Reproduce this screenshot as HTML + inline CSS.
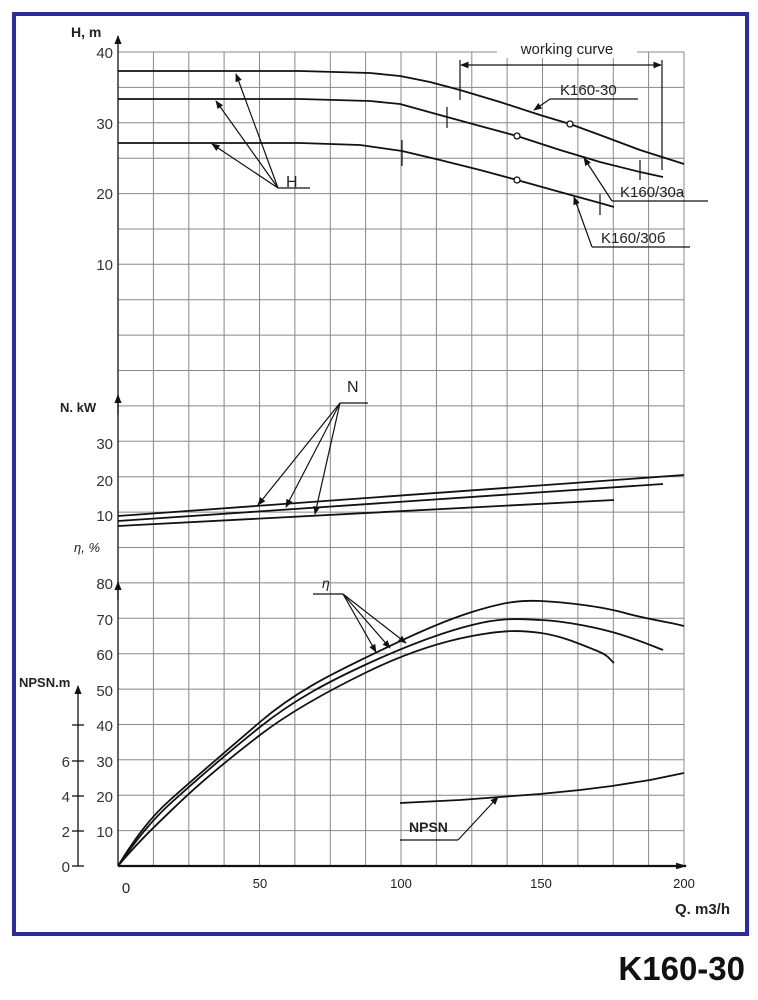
<!DOCTYPE html>
<html><head><meta charset="utf-8"><style>
html,body{margin:0;padding:0;background:#fff;}
svg{display:block;font-family:"Liberation Sans",sans-serif;}
</style></head><body>
<svg width="758" height="1000" viewBox="0 0 758 1000" xmlns="http://www.w3.org/2000/svg">
<defs>
<marker id="a" viewBox="0 0 10 10" refX="9" refY="5" markerWidth="7" markerHeight="7" orient="auto"><path d="M0,1 L10,5 L0,9 z" fill="#111"/></marker>
<marker id="b" viewBox="0 0 10 10" refX="9" refY="5" markerWidth="5" markerHeight="5" orient="auto"><path d="M0,2 L10,5 L0,8 z" fill="#111"/></marker>
</defs>
<rect x="14" y="14" width="733" height="920" fill="none" stroke="#2b2ba3" stroke-width="4"/>
<g stroke="#888" stroke-width="1">
<line x1="118" y1="52.0" x2="684" y2="52.0"/><line x1="118" y1="87.4" x2="684" y2="87.4"/><line x1="118" y1="122.8" x2="684" y2="122.8"/><line x1="118" y1="158.2" x2="684" y2="158.2"/><line x1="118" y1="193.6" x2="684" y2="193.6"/><line x1="118" y1="229.0" x2="684" y2="229.0"/><line x1="118" y1="264.3" x2="684" y2="264.3"/><line x1="118" y1="299.7" x2="684" y2="299.7"/><line x1="118" y1="335.1" x2="684" y2="335.1"/><line x1="118" y1="370.5" x2="684" y2="370.5"/><line x1="118" y1="405.9" x2="684" y2="405.9"/><line x1="118" y1="441.3" x2="684" y2="441.3"/><line x1="118" y1="476.7" x2="684" y2="476.7"/><line x1="118" y1="512.1" x2="684" y2="512.1"/><line x1="118" y1="547.5" x2="684" y2="547.5"/><line x1="118" y1="582.9" x2="684" y2="582.9"/><line x1="118" y1="618.3" x2="684" y2="618.3"/><line x1="118" y1="653.7" x2="684" y2="653.7"/><line x1="118" y1="689.1" x2="684" y2="689.1"/><line x1="118" y1="724.5" x2="684" y2="724.5"/><line x1="118" y1="759.8" x2="684" y2="759.8"/><line x1="118" y1="795.2" x2="684" y2="795.2"/><line x1="118" y1="830.6" x2="684" y2="830.6"/>
<line x1="153.4" y1="52" x2="153.4" y2="866"/><line x1="188.8" y1="52" x2="188.8" y2="866"/><line x1="224.1" y1="52" x2="224.1" y2="866"/><line x1="259.5" y1="52" x2="259.5" y2="866"/><line x1="294.9" y1="52" x2="294.9" y2="866"/><line x1="330.3" y1="52" x2="330.3" y2="866"/><line x1="365.6" y1="52" x2="365.6" y2="866"/><line x1="401" y1="52" x2="401" y2="866"/><line x1="436.4" y1="52" x2="436.4" y2="866"/><line x1="471.8" y1="52" x2="471.8" y2="866"/><line x1="507.1" y1="52" x2="507.1" y2="866"/><line x1="542.5" y1="52" x2="542.5" y2="866"/><line x1="577.9" y1="52" x2="577.9" y2="866"/><line x1="613.3" y1="52" x2="613.3" y2="866"/><line x1="648.6" y1="52" x2="648.6" y2="866"/><line x1="684" y1="52" x2="684" y2="866"/>
</g>
<rect x="497" y="38" width="140" height="20" fill="#fff"/>
<text x="567" y="54" font-size="15" text-anchor="middle" fill="#222">working curve</text>
<g stroke="#111" fill="none" stroke-width="1.3">
<line x1="118" y1="866" x2="118" y2="36" marker-end="url(#a)"/>
<line x1="118" y1="600" x2="118" y2="582" marker-end="url(#a)"/>
<line x1="118" y1="415" x2="118" y2="395" marker-end="url(#a)"/>
<line x1="118" y1="866" x2="686" y2="866" stroke-width="2.2" marker-end="url(#b)"/>
<line x1="78" y1="866" x2="78" y2="686" marker-end="url(#a)"/>
<line x1="72" y1="866" x2="84" y2="866"/><line x1="72" y1="831" x2="84" y2="831"/><line x1="72" y1="796" x2="84" y2="796"/><line x1="72" y1="761" x2="84" y2="761"/><line x1="72" y1="725" x2="84" y2="725"/>
</g>
<g stroke="#111" fill="none" stroke-width="1.8" stroke-linejoin="round">
<polyline points="118,71 300,71 370,73 400,76 430,82 460,90 500,102 540,115 570,124 600,135 640,150 684,164"/>
<polyline points="118,99 300,99 370,101 400,104 447,117 480,126 517,136 560,150 600,162 640,172 663,177"/>
<polyline points="118,143 300,143 360,145 402,151 440,160 480,170 517,180 560,192 600,203 614,207"/>
<line x1="118" y1="516" x2="684" y2="475"/>
<line x1="118" y1="521" x2="663" y2="484"/>
<line x1="118" y1="526" x2="614" y2="500"/>
<path d="M118,866 C135,838 150,818 170,800 S225,752 260,722 S330,675 367,657 S440,622 472,612 S520,600 541,601 S600,606 625,613 S670,622 684,626"/>
<path d="M118,866 C136,840 152,820 172,802 S225,755 260,727 S330,681 367,664 S440,633 472,625 S520,619 541,620 S590,626 612,632 S650,645 663,650"/>
<path d="M118,866 C138,842 155,826 178,804 S230,758 260,735 S330,690 367,672 S440,642 472,636 S520,630 541,633 S580,644 595,650 S608,658 614,663"/>
<polyline points="400,803 460,800 500,797 540,794 580,790 612,786 650,780 684,773"/>
</g>
<g stroke="#111" fill="#fff" stroke-width="1.3">
<circle cx="570" cy="124" r="3"/><circle cx="517" cy="136" r="3"/><circle cx="517" cy="180" r="3"/>
</g>
<g stroke="#111" fill="none" stroke-width="1.2">
<line x1="460" y1="60" x2="460" y2="100"/><line x1="662" y1="60" x2="662" y2="170"/>
<line x1="560" y1="65" x2="461" y2="65" marker-end="url(#a)"/>
<line x1="560" y1="65" x2="661" y2="65" marker-end="url(#a)"/>
<line x1="447" y1="107" x2="447" y2="128"/><line x1="640" y1="160" x2="640" y2="180"/>
<line x1="402" y1="140" x2="402" y2="166"/><line x1="600" y1="194" x2="600" y2="215"/>
<polyline points="638,99 550,99"/><line x1="550" y1="99" x2="534" y2="110" marker-end="url(#a)"/>
<polyline points="708,201 612,201"/><line x1="612" y1="201" x2="584" y2="158" marker-end="url(#a)"/>
<polyline points="690,247 592,247"/><line x1="592" y1="247" x2="574" y2="197" marker-end="url(#a)"/>
<line x1="278" y1="188" x2="310" y2="188"/>
<line x1="278" y1="188" x2="236" y2="74" marker-end="url(#a)"/>
<line x1="278" y1="188" x2="216" y2="101" marker-end="url(#a)"/>
<line x1="278" y1="188" x2="212" y2="144" marker-end="url(#a)"/>
<line x1="340" y1="403" x2="368" y2="403"/>
<line x1="340" y1="403" x2="258" y2="505" marker-end="url(#a)"/>
<line x1="340" y1="403" x2="286" y2="507" marker-end="url(#a)"/>
<line x1="340" y1="403" x2="315" y2="514" marker-end="url(#a)"/>
<line x1="313" y1="594" x2="343" y2="594"/>
<line x1="343" y1="594" x2="376" y2="652" marker-end="url(#a)"/>
<line x1="343" y1="594" x2="390" y2="648" marker-end="url(#a)"/>
<line x1="343" y1="594" x2="406" y2="643" marker-end="url(#a)"/>
<polyline points="400,840 458,840"/><line x1="458" y1="840" x2="498" y2="797" marker-end="url(#a)"/>
</g>
<g font-size="15" fill="#333" text-anchor="end">
<text x="113" y="58">40</text><text x="113" y="129">30</text><text x="113" y="199">20</text><text x="113" y="270">10</text>
<text x="113" y="449">30</text><text x="113" y="486">20</text><text x="113" y="521">10</text>
<text x="113" y="589">80</text><text x="113" y="625">70</text><text x="113" y="660">60</text><text x="113" y="696">50</text><text x="113" y="731">40</text><text x="113" y="767">30</text><text x="113" y="802">20</text><text x="113" y="837">10</text>
<text x="70" y="872">0</text><text x="70" y="837">2</text><text x="70" y="802">4</text><text x="70" y="767">6</text>
</g>
<g fill="#222">
<text x="71" y="37" font-size="14" font-weight="bold">H, m</text>
<text x="60" y="412" font-size="13" font-weight="bold">N. kW</text>
<text x="74" y="552" font-size="13" font-style="italic">η, %</text>
<text x="19" y="687" font-size="13" font-weight="bold">NPSN.m</text>
<text x="286" y="187" font-size="16">H</text>
<text x="347" y="392" font-size="16">N</text>
<text x="322" y="588" font-size="14" font-style="italic">η</text>
<text x="409" y="832" font-size="14" font-weight="bold">NPSN</text>
<text x="560" y="95" font-size="15">K160-30</text>
<text x="620" y="197" font-size="15">K160/30a</text>
<text x="601" y="243" font-size="15">K160/30б</text>
<text x="126" y="893" font-size="15" text-anchor="middle">0</text>
<text x="260" y="888" font-size="13" text-anchor="middle">50</text>
<text x="401" y="888" font-size="13" text-anchor="middle">100</text>
<text x="541" y="888" font-size="13" text-anchor="middle">150</text>
<text x="684" y="888" font-size="13" text-anchor="middle">200</text>
<text x="730" y="914" font-size="15" font-weight="bold" text-anchor="end">Q. m3/h</text>
<text x="745" y="980" font-size="33" font-weight="bold" text-anchor="end" fill="#111">K160-30</text>
</g>
</svg>
</body></html>
